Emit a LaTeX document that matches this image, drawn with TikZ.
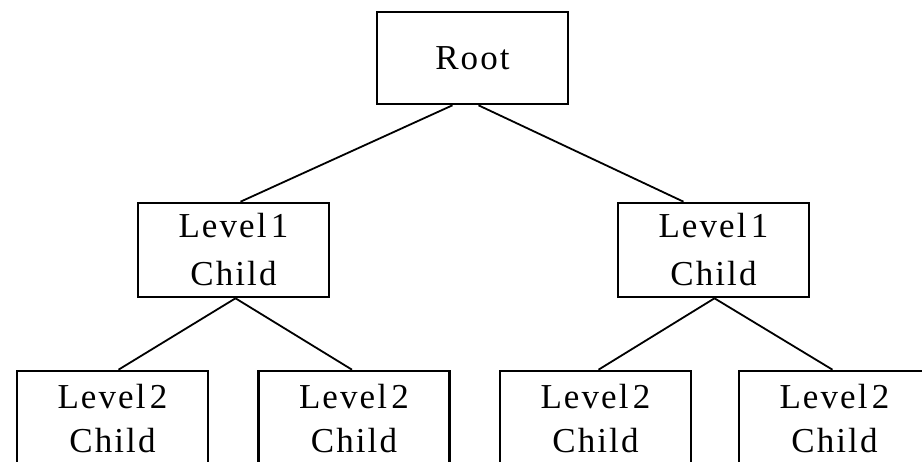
\documentclass[tikz,border=0pt]{standalone}
\usepackage{fontspec}
\setmainfont{Liberation Serif}[LetterSpace=6, WordSpace=0.4]
\begin{document}
\begin{tikzpicture}[x=1pt,y=-1pt,
  box/.style={draw=black, line width=2.6pt, fill=white, align=center, inner sep=0pt,
    minimum width=191pt, font=\fontsize{35}{48}\selectfont},
  rootbox/.style={box, minimum height=92pt},
  midbox/.style={box, minimum height=94pt},
  leafbox/.style={box, minimum height=96pt, font=\fontsize{35}{44}\selectfont},
  link/.style={draw=black, line width=1.8pt}]
\clip (0,0) rectangle (922,462);
\fill[white] (0,0) rectangle (922,462);
\node[rootbox] (root) at (472.5,58) {Root};
\node[midbox] (l1a) at (233.5,250) {Level 1\\Child};
\node[midbox] (l1b) at (713.5,250) {Level 1\\Child};
\node[leafbox] (l2a) at (112.5,419) {Level 2\\Child};
\node[leafbox] (l2b) at (354,419) {Level 2\\Child};
\node[leafbox] (l2c) at (595.5,419) {Level 2\\Child};
\node[leafbox] (l2d) at (834.5,419) {Level 2\\Child};
\draw[link] ([xshift=-20pt]root.south) -- ([xshift=7pt]l1a.north);
\draw[link] ([xshift=6pt]root.south) -- ([xshift=-30pt]l1b.north);
\draw[link] ([xshift=2pt]l1a.south) -- ([xshift=6pt]l2a.north);
\draw[link] ([xshift=2pt]l1a.south) -- ([xshift=-2pt]l2b.north);
\draw[link] ([xshift=1pt]l1b.south) -- ([xshift=3pt]l2c.north);
\draw[link] ([xshift=1pt]l1b.south) -- ([xshift=-2pt]l2d.north);
\end{tikzpicture}
\end{document}
